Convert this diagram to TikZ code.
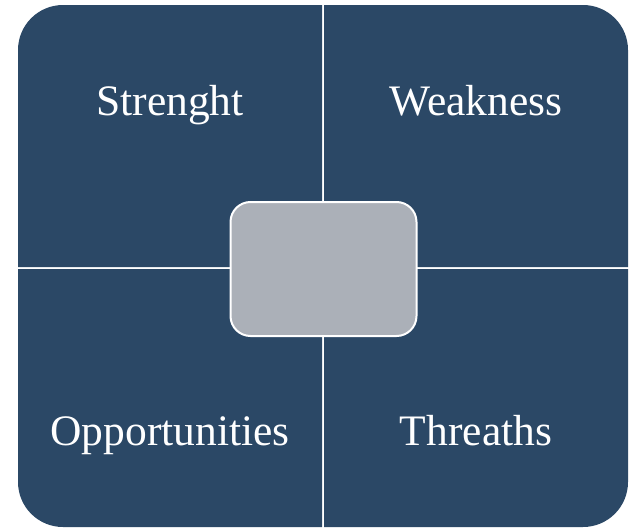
\documentclass[tikz,border=0pt]{standalone}
\usepackage{fontspec}
\setmainfont{Liberation Serif}
\definecolor{quad}{HTML}{2B4866}
\definecolor{core}{HTML}{ABB0B8}
\begin{document}
\begin{tikzpicture}[x=1pt,y=-1pt,
  quadfill/.style={fill=quad},
  qlabel/.style={text=white,font=\fontsize{43.5}{50}\selectfont,anchor=base},
  corebox/.style={fill=core,draw=white,line width=2pt,rounded corners=20pt}]
\useasboundingbox (0,0) rectangle (629,530);
% quadrants
\path[quadfill] (322,267) -- (322,5) [rounded corners=45pt] -- (18,5) [sharp corners] -- (18,267) -- cycle;
\path[quadfill] (324,5) [rounded corners=45pt] -- (628,5) [sharp corners] -- (628,267) -- (324,267) -- cycle;
\path[quadfill] (18,269) -- (322,269) -- (322,527) [rounded corners=45pt] -- (18,527) [sharp corners] -- cycle;
\path[quadfill] (324,269) -- (628,269) [rounded corners=45pt] -- (628,527) [sharp corners] -- (324,527) -- cycle;
\node[qlabel] (s) at (170,115) {Strenght};
\node[qlabel] (w) at (476,115) {Weakness};
\node[qlabel] (o) at (170,445) {Opportunities};
\node[qlabel] (t) at (476,445) {Threaths};
\node[corebox,minimum width=186pt,minimum height=134pt] (c) at (323.5,269) {};
\end{tikzpicture}
\end{document}
